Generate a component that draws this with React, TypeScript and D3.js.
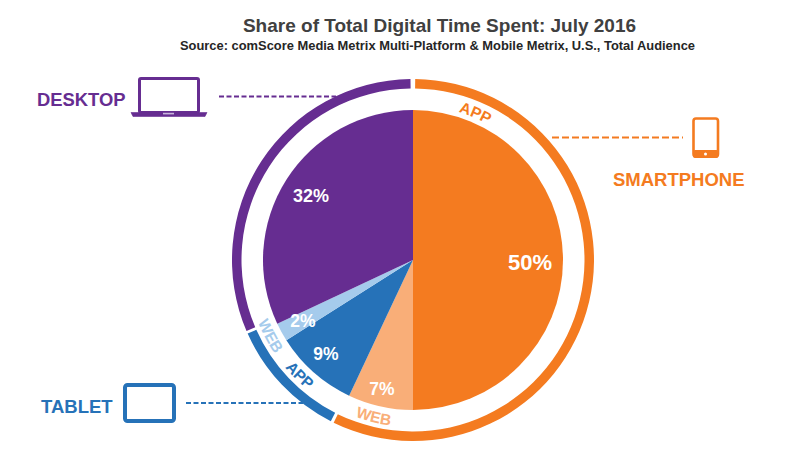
import React from "react";
import * as d3 from "d3";

const titleText = "Share of Total Digital Time Spent: July 2016";
const subtitleText = "Source: comScore Media Metrix Multi-Platform & Mobile Metrix, U.S., Total Audience";
const segmentNames = ["Smartphone App", "Smartphone Web", "Tablet App", "Tablet Web", "Desktop"];
const segmentValues = [50, 7, 9, 2, 32];
const segmentColors = ["#F47B20", "#F9AE78", "#2672B8", "#A5CBEC", "#662D91"];
const segmentLabels = ["50%", "7%", "9%", "2%", "32%"];
const labelPos: [number, number, number][] = [[117, 2, 22], [-31, 129, 17.5], [-87, 94, 17.5], [-110, 61, 17.5], [-102, -64, 18]];

const ringStart = [0.7, 207, 246.9];
const ringEnd = [206, 246, 359.2];
const ringColors = ["#F47B20", "#2672B8", "#662D91"];

const ringWords = ["APP", "WEB", "APP", "WEB"];
const ringWordAngles = [23, 194, 224.5, 242];
const ringWordColors = ["#F47B20", "#F9AE78", "#2672B8", "#A5CBEC"];

const cx = 413, cy = 260, R = 150, ringIn = 171.5, ringOut = 181;
const rad = (d: number) => (d * Math.PI) / 180;
const font = "'Liberation Sans', Arial, sans-serif";

function wordPath(angle: number, r: number, outward: boolean) {
  const span = 30;
  const a0 = rad(angle - span) - Math.PI / 2, a1 = rad(angle + span) - Math.PI / 2;
  const p = (a: number) => `${(Math.cos(a) * r).toFixed(2)} ${(Math.sin(a) * r).toFixed(2)}`;
  return outward
    ? `M${p(a0)}A${r} ${r} 0 0 1 ${p(a1)}`
    : `M${p(a1)}A${r} ${r} 0 0 0 ${p(a0)}`;
}

export default function App() {
  const pie = d3.pie<number>().sort(null)(segmentValues);
  const arc = d3.arc<d3.PieArcDatum<number>>().innerRadius(0).outerRadius(R);
  const ring = d3.arc<number>()
    .innerRadius(ringIn).outerRadius(ringOut)
    .startAngle((_, i) => rad(ringStart[i]))
    .endAngle((_, i) => rad(ringEnd[i]));

  return (
    <svg width={800} height={464} viewBox="0 0 800 464"
      style={{ position: "absolute", left: 0, top: 0, background: "#fff" }} fontFamily={font}>
      <text x={439.5} y={32} textAnchor="middle" fontSize={19} fontWeight="bold" fill="#404040">{titleText}</text>
      <text x={437.5} y={49.5} textAnchor="middle" fontSize={12.9} fontWeight="bold" fill="#262626">{subtitleText}</text>

      <g transform={`translate(${cx},${cy})`}>
        {pie.map((d, i) => (
          <path key={segmentNames[i]} d={arc(d) ?? ""} fill={segmentColors[i]} />
        ))}
        {segmentLabels.map((t, i) => (
          <text key={t} x={labelPos[i][0]} y={labelPos[i][1]} dy="0.35em" textAnchor="middle"
            fontSize={labelPos[i][2]} fontWeight="bold" fill="#fff">{t}</text>
        ))}
        {ringColors.map((c, i) => (
          <path key={c} d={ring(0 as number, i as any) ?? ""} fill={c} />
        ))}
        <defs>
          {ringWords.map((_, i) => {
            const a = ringWordAngles[i];
            const bottom = a > 90;
            return <path key={i} id={`w${i}`} d={wordPath(a, bottom ? 167 : 155, !bottom)} fill="none" />;
          })}
        </defs>
        {ringWords.map((w, i) => (
          <text key={i} fontSize={15.5} fontWeight="bold" fill={ringWordColors[i]} textAnchor="middle">
            <textPath href={`#w${i}`} startOffset="50%">{w}</textPath>
          </text>
        ))}
      </g>

      {/* Desktop callout */}
      <text x={37} y={106} fontSize={18.4} fontWeight="bold" fill="#662D91">DESKTOP</text>
      <rect x={139.5} y={78.5} width={59} height={34} rx={1.5} fill="none" stroke="#662D91" strokeWidth={3} />
      <path d="M131 112.5H207L205 116.5H133Z" fill="#662D91" stroke="#662D91" strokeWidth={0.6} strokeLinejoin="round" />
      <rect x={163} y={112.8} width={11} height={1.6} fill="#C9B6DC" />
      <line x1={219} y1={96.5} x2={336} y2={96.5} stroke="#662D91" strokeWidth={2} strokeDasharray="5 2.5" />

      {/* Smartphone callout */}
      <text x={613} y={186} fontSize={18.5} fontWeight="bold" fill="#F47B20">SMARTPHONE</text>
      <rect x={693.5} y={118.5} width={24.5} height={38} rx={2.5} fill="none" stroke="#F47B20" strokeWidth={2.6} />
      <rect x={693} y={150} width={25.5} height={8} rx={2} fill="#F47B20" />
      <circle cx={705.5} cy={154} r={1.5} fill="#fff" />
      <line x1={552} y1={137.5} x2={683} y2={137.5} stroke="#F47B20" strokeWidth={2} strokeDasharray="7 3" />

      {/* Tablet callout */}
      <text x={41} y={412.5} fontSize={18.5} fontWeight="bold" fill="#2672B8">TABLET</text>
      <rect x={125} y={385} width={49} height={36} rx={2.5} fill="none" stroke="#2672B8" strokeWidth={4} />
      <line x1={186} y1={403} x2={306} y2={403} stroke="#2672B8" strokeWidth={2} strokeDasharray="5 2.5" />
    </svg>
  );
}
